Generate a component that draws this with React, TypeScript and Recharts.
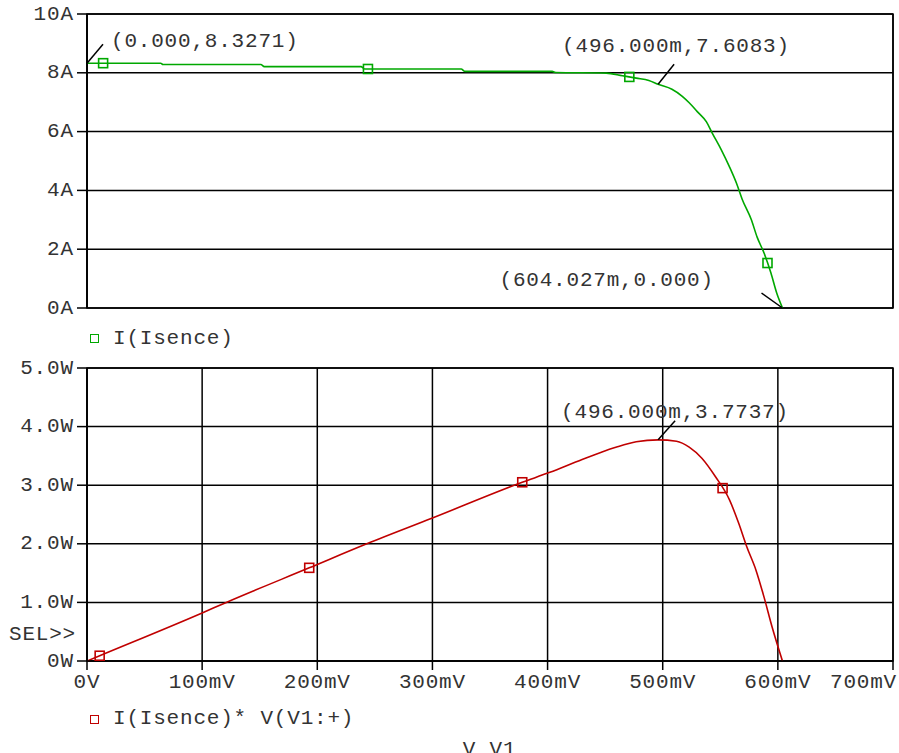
import React from 'react';
import {
  ComposedChart,
  Line,
  Scatter,
  XAxis,
  YAxis,
  CartesianGrid,
  ReferenceDot,
  ReferenceArea,
} from 'recharts';

// sweep voltage (mV) and the two probed traces
const currentVoltage = [0, 64, 66, 151, 154, 238, 241, 325, 328, 404, 407, 451, 465, 477, 488, 496, 508, 517, 523, 530, 538, 543, 551, 558, 564, 569, 577, 582, 588, 594, 599, 604.027];
const currentValues = [8.3271, 8.3271, 8.28, 8.28, 8.21, 8.21, 8.13, 8.13, 8.05, 8.05, 8.01, 7.99, 7.9, 7.82, 7.74, 7.6083, 7.44, 7.2, 6.98, 6.68, 6.33, 5.95, 5.37, 4.8, 4.25, 3.7, 3.0, 2.41, 1.87, 1.19, 0.51, 0];

const powerVoltage = [0, 11, 100, 121, 193, 243, 300, 378, 402, 430, 445, 460, 477, 496, 512, 523, 534, 546, 558, 566, 573, 581, 588, 595, 604];
const powerValues = [0, 0.09, 0.82, 1.0, 1.59, 2.0, 2.44, 3.05, 3.22, 3.44, 3.55, 3.65, 3.74, 3.7737, 3.75, 3.65, 3.46, 3.14, 2.75, 2.35, 1.95, 1.55, 1.09, 0.58, 0];

// trace symbols
const currentMarkerVoltage = [14, 244, 471, 591];
const currentMarkerValues = [8.3271, 8.13, 7.86, 1.53];
const powerMarkerVoltage = [11, 193, 378, 552];
const powerMarkerValues = [0.09, 1.59, 3.05, 2.95];

const voltageTicks = [0, 100, 200, 300, 400, 500, 600, 700];
const voltageTickLabels = ['0V', '100mV', '200mV', '300mV', '400mV', '500mV', '600mV', '700mV'];
const currentTicks = [0, 2, 4, 6, 8, 10];
const currentTickLabels = ['0A', '2A', '4A', '6A', '8A', '10A'];
const powerTicks = [0, 1, 2, 3, 4, 5];
const powerTickLabels = ['0W', '1.0W', '2.0W', '3.0W', '4.0W', '5.0W'];

const GREEN = '#00a800';
const RED = '#c00000';
const INK = '#333';
const FONT = '"Liberation Mono", "Courier New", monospace';
const FS = 21;
const LS = 0.8;

const zip = (xs: number[], ys: number[]) => xs.map((v, k) => ({ v, y: ys[k] }));
const currentData = zip(currentVoltage, currentValues);
const powerData = zip(powerVoltage, powerValues);
const currentMarkers = zip(currentMarkerVoltage, currentMarkerValues);
const powerMarkers = zip(powerMarkerVoltage, powerMarkerValues);

const textStyle = { fontFamily: FONT, fontSize: FS, letterSpacing: LS, fill: INK };

const squareShape = (color: string) => (props: any) => (
  <rect x={props.cx - 4.5} y={props.cy - 4.5} width={9} height={9} fill="none" stroke={color} strokeWidth={1.6} />
);

// leader line + coordinate readout, offsets relative to the probed point
const callout = (label: string, lx: number, ly: number, tx: number, ty: number) => (props: any) => {
  const { cx, cy } = props;
  return (
    <g>
      <line x1={cx} y1={cy} x2={cx + lx} y2={cy + ly} stroke="#000" strokeWidth={1.5} />
      <text x={cx + tx} y={cy + ty} dominantBaseline="central" style={textStyle}>
        {label}
      </text>
    </g>
  );
};

const yTick = (labels: string[], ticks: number[]) => (props: any) => {
  const { x, y, payload } = props;
  const label = labels[ticks.indexOf(payload.value)];
  return (
    <text x={x + LS} y={y} textAnchor="end" dominantBaseline="central" style={textStyle}>
      {label}
    </text>
  );
};

const xTick = (props: any) => {
  const { x, y, payload } = props;
  const label = voltageTickLabels[voltageTicks.indexOf(payload.value)];
  const w = label.length * (FS * 0.6 + LS);
  let tx = x;
  if (x + w / 2 > 897) tx = 897 - w / 2;
  return (
    <text x={tx} y={y} textAnchor="middle" dominantBaseline="hanging" style={textStyle}>
      {label}
    </text>
  );
};

const App: React.FC = () => {
  return (
    <div style={{ position: 'absolute', left: 0, top: 0, width: 899, height: 753, background: '#fff', overflow: 'hidden' }}>
      <div style={{ position: 'absolute', left: 0, top: 0 }}>
        <ComposedChart width={899} height={320} margin={{ top: 14, right: 6, bottom: 10, left: 7 }}>
          <CartesianGrid stroke="#000" strokeWidth={1.5} />
          <XAxis
            dataKey="v"
            type="number"
            domain={[0, 700]}
            ticks={voltageTicks}
            interval={0}
            tick={false}
            tickLine={false}
            axisLine={false}
            height={2}
            allowDataOverflow
          />
          <YAxis
            type="number"
            domain={[0, 10]}
            ticks={currentTicks}
            width={80}
            tickSize={10}
            tickMargin={4}
            tickLine={{ stroke: '#000', strokeWidth: 1.5 }}
            axisLine={{ stroke: '#000', strokeWidth: 1.5 }}
            tick={yTick(currentTickLabels, currentTicks)}
          />
          <ReferenceArea x1={0} x2={700} y1={0} y2={10} fill="none" stroke="#000" strokeWidth={1.5} />
          <Line data={currentData} dataKey="y" type="monotone" stroke={GREEN} strokeWidth={1.6} dot={false} isAnimationActive={false} />
          <Scatter data={currentMarkers} dataKey="y" shape={squareShape(GREEN)} isAnimationActive={false} />
          <ReferenceDot x={0} y={8.3271} shape={callout('(0.000,8.3271)', 16, -19, 24, -22)} />
          <ReferenceDot x={496} y={7.6083} shape={callout('(496.000m,7.6083)', 16, -20, -96, -38)} />
          <ReferenceDot x={604.027} y={0} shape={callout('(604.027m,0.000)', -21, -15, -283, -28)} />
        </ComposedChart>
      </div>

      <div style={{ position: 'absolute', left: 0, top: 354 }}>
        <ComposedChart width={899} height={360} margin={{ top: 14, right: 6, bottom: 13, left: 7 }}>
          <CartesianGrid stroke="#000" strokeWidth={1.5} />
          <XAxis
            dataKey="v"
            type="number"
            domain={[0, 700]}
            ticks={voltageTicks}
            interval={0}
            height={40}
            tickSize={9}
            tickMargin={4}
            tickLine={{ stroke: '#000', strokeWidth: 1.5 }}
            axisLine={{ stroke: '#000', strokeWidth: 1.5 }}
            tick={xTick}
            allowDataOverflow
          />
          <YAxis
            type="number"
            domain={[0, 5]}
            ticks={powerTicks}
            width={80}
            tickSize={10}
            tickMargin={4}
            tickLine={{ stroke: '#000', strokeWidth: 1.5 }}
            axisLine={{ stroke: '#000', strokeWidth: 1.5 }}
            tick={yTick(powerTickLabels, powerTicks)}
          />
          <ReferenceArea x1={0} x2={700} y1={0} y2={5} fill="none" stroke="#000" strokeWidth={1.5} />
          <Line data={powerData} dataKey="y" type="monotone" stroke={RED} strokeWidth={1.6} dot={false} isAnimationActive={false} />
          <Scatter data={powerMarkers} dataKey="y" shape={squareShape(RED)} isAnimationActive={false} />
          <ReferenceDot x={496} y={3.7737} shape={callout('(496.000m,3.7737)', 17, -19, -97, -27)} />
        </ComposedChart>
      </div>

      {/* legends and labels */}
      <div style={{ position: 'absolute', left: 90, top: 334, width: 7, height: 7, border: `1.6px solid ${GREEN}` }} />
      <div style={{ position: 'absolute', left: 113, top: 327, fontFamily: FONT, fontSize: FS, letterSpacing: LS, color: INK, lineHeight: '24px', whiteSpace: 'pre' }}>
        I(Isence)
      </div>
      <div style={{ position: 'absolute', left: 9, top: 623, fontFamily: FONT, fontSize: FS, letterSpacing: LS, color: INK, lineHeight: '24px', whiteSpace: 'pre' }}>
        SEL&gt;&gt;
      </div>
      <div style={{ position: 'absolute', left: 90, top: 715, width: 7, height: 7, border: `1.6px solid ${RED}` }} />
      <div style={{ position: 'absolute', left: 113, top: 707, fontFamily: FONT, fontSize: FS, letterSpacing: LS, color: INK, lineHeight: '24px', whiteSpace: 'pre' }}>
        I(Isence)* V(V1:+)
      </div>
      <div style={{ position: 'absolute', left: 0, width: 899, textAlign: 'center', paddingLeft: 80, boxSizing: 'border-box', top: 738, fontFamily: FONT, fontSize: FS, letterSpacing: LS, color: INK, lineHeight: '24px', whiteSpace: 'pre' }}>
        V_V1
      </div>
    </div>
  );
};

export default App;
